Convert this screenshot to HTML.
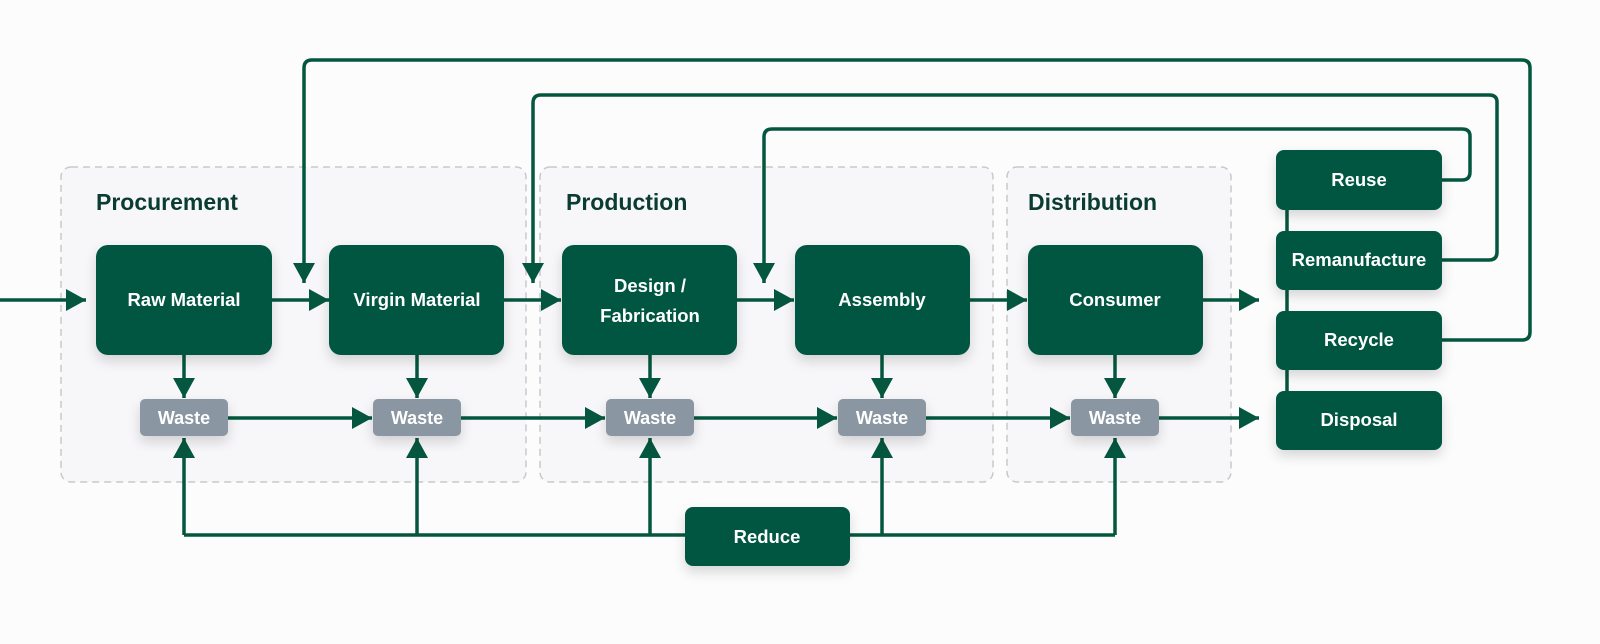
<!DOCTYPE html>
<html><head><meta charset="utf-8"><style>
html,body{margin:0;padding:0;background:#fcfcfd;}
svg{display:block;font-family:"Liberation Sans",sans-serif;}
</style></head><body>
<svg width="1600" height="644" viewBox="0 0 1600 644" xmlns="http://www.w3.org/2000/svg">
<defs>
<filter id="sh" x="-20%" y="-20%" width="140%" height="160%"><feDropShadow dx="0" dy="6" stdDeviation="6" flood-color="#000" flood-opacity="0.15"/></filter>
<marker id="ar" markerUnits="userSpaceOnUse" markerWidth="24" markerHeight="24" refX="20" refY="11" orient="auto"><path d="M0,0 L20,11 L0,22 Z" fill="#04563f"/></marker>
</defs>
<rect width="1600" height="644" fill="#fcfcfd"/>
<g fill="#f7f7f9" stroke="#c9c9cc" stroke-width="1.5" stroke-dasharray="7,5">
<rect x="61" y="167" width="465" height="315" rx="10"/>
<rect x="540" y="167" width="453" height="315" rx="10"/>
<rect x="1007" y="167" width="224" height="315" rx="10"/>
</g>
<g font-weight="bold" font-size="23" fill="#0a3d2f">
<text x="96" y="210">Procurement</text>
<text x="566" y="210">Production</text>
<text x="1028" y="210">Distribution</text>
</g>
<g fill="none" stroke="#04563f" stroke-width="3.5" stroke-linejoin="round">
<path d="M0,300 H86" marker-end="url(#ar)"/>
<path d="M272,300 H329" marker-end="url(#ar)"/>
<path d="M504,300 H561" marker-end="url(#ar)"/>
<path d="M737,300 H794" marker-end="url(#ar)"/>
<path d="M970,300 H1027" marker-end="url(#ar)"/>
<path d="M1203,300 H1259" marker-end="url(#ar)"/>
<path d="M184,355 V398" marker-end="url(#ar)"/>
<path d="M417,355 V398" marker-end="url(#ar)"/>
<path d="M650,355 V398" marker-end="url(#ar)"/>
<path d="M882,355 V398" marker-end="url(#ar)"/>
<path d="M1115,355 V398" marker-end="url(#ar)"/>
<path d="M228,418 H372" marker-end="url(#ar)"/>
<path d="M461,418 H605" marker-end="url(#ar)"/>
<path d="M694,418 H837" marker-end="url(#ar)"/>
<path d="M926,418 H1070" marker-end="url(#ar)"/>
<path d="M1159,418 H1259" marker-end="url(#ar)"/>
<path d="M1115,535 H184" />
<path d="M184,535 V438" marker-end="url(#ar)"/>
<path d="M417,535 V438" marker-end="url(#ar)"/>
<path d="M650,535 V438" marker-end="url(#ar)"/>
<path d="M882,535 V438" marker-end="url(#ar)"/>
<path d="M1115,535 V438" marker-end="url(#ar)"/>
<path d="M1276,180 H1294 Q1287,180 1287,188 V420 Q1287,428 1294,428 H1276"/>
<path d="M1287,260 H1276 M1287,340 H1276"/>
<path d="M1442,180 H1462 Q1470,180 1470,172 V136 Q1470,129 1462,129 H772 Q764,129 764,137 V283" marker-end="url(#ar)"/>
<path d="M1442,260 H1489 Q1497,260 1497,252 V102 Q1497,95 1489,95 H541 Q533,95 533,103 V283" marker-end="url(#ar)"/>
<path d="M1442,340 H1522 Q1530,340 1530,332 V68 Q1530,60 1522,60 H312 Q304,60 304,68 V283" marker-end="url(#ar)"/>
</g>
<g fill="#04563f" filter="url(#sh)">
<rect x="96" y="245" width="176" height="110" rx="12"/>
<rect x="329" y="245" width="175" height="110" rx="12"/>
<rect x="562" y="245" width="175" height="110" rx="12"/>
<rect x="795" y="245" width="175" height="110" rx="12"/>
<rect x="1028" y="245" width="175" height="110" rx="12"/>
<rect x="1276" y="150" width="166" height="60" rx="8"/>
<rect x="1276" y="231" width="166" height="59" rx="8"/>
<rect x="1276" y="311" width="166" height="59" rx="8"/>
<rect x="1276" y="391" width="166" height="59" rx="8"/>
<rect x="685" y="507" width="165" height="59" rx="8"/>
</g>
<g fill="#8a96a1" filter="url(#sh)">
<rect x="140" y="399" width="88" height="37" rx="5"/>
<rect x="373" y="399" width="88" height="37" rx="5"/>
<rect x="606" y="399" width="88" height="37" rx="5"/>
<rect x="838" y="399" width="88" height="37" rx="5"/>
<rect x="1071" y="399" width="88" height="37" rx="5"/>
</g>
<g fill="#fff" font-weight="bold" font-size="18.5" text-anchor="middle">
<text x="184" y="306">Raw Material</text>
<text x="417" y="306">Virgin Material</text>
<text x="650" y="292">Design /</text>
<text x="650" y="322">Fabrication</text>
<text x="882" y="306">Assembly</text>
<text x="1115" y="306">Consumer</text>
<text x="1359" y="186">Reuse</text>
<text x="1359" y="266">Remanufacture</text>
<text x="1359" y="346">Recycle</text>
<text x="1359" y="426">Disposal</text>
<text x="767" y="543">Reduce</text>
<g font-size="18"><text x="184" y="424">Waste</text><text x="417" y="424">Waste</text><text x="650" y="424">Waste</text><text x="882" y="424">Waste</text><text x="1115" y="424">Waste</text></g>
</g>
</svg>
</body></html>
